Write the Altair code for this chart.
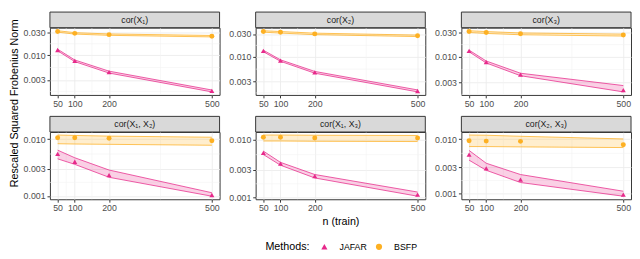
import math
import altair as alt
import pandas as pd

FONT = "Liberation Sans"

# ---------------- data ----------------
n_train = [50, 100, 200, 500]
panel_labels = ["cor(X₁)", "cor(X₂)", "cor(X₃)",
                "cor(X₁, X₂)", "cor(X₁, X₃)", "cor(X₂, X₃)"]
method_names = ["JAFAR", "BSFP"]
method_colors = ["#E7298A", "#FDB022"]
method_shapes = ["triangle-up", "circle"]

jafar_mean = [
    [0.0128, 0.0076, 0.0044, 0.00177],
    [0.0132, 0.0083, 0.0047, 0.0019],
    [0.0129, 0.0077, 0.0043, 0.0021],
    [0.0055, 0.0040, 0.00233, 0.00104],
    [0.0059, 0.00384, 0.00235, 0.00113],
    [0.0052, 0.0029, 0.0018, 0.00095],
]
jafar_lo = [
    [0.0123, 0.0073, 0.0042, 0.00169],
    [0.0127, 0.0080, 0.0045, 0.00182],
    [0.0124, 0.0074, 0.0041, 0.00194],
    [0.0045, 0.0036, 0.00213, 0.00099],
    [0.0055, 0.00361, 0.00218, 0.00106],
    [0.0041, 0.00267, 0.00159, 0.00089],
]
jafar_hi = [
    [0.0133, 0.0079, 0.0046, 0.00185],
    [0.0137, 0.0086, 0.0049, 0.0020],
    [0.0134, 0.0081, 0.0046, 0.0026],
    [0.0064, 0.0047, 0.00286, 0.00114],
    [0.0063, 0.00404, 0.0025, 0.00125],
    [0.0062, 0.0036, 0.00223, 0.0011],
]
bsfp_mean = [
    [0.0314, 0.0286, 0.0269, 0.0249],
    [0.0340, 0.0326, 0.0302, 0.0275],
    [0.0316, 0.0303, 0.0285, 0.0269],
    [0.0106, 0.0106, 0.0104, 0.0094],
    [0.0109, 0.0109, 0.0106, 0.0106],
    [0.0093, 0.0092, 0.0091, 0.0079],
]
bsfp_lo = [
    [0.0303, 0.0276, 0.0260, 0.0241],
    [0.0328, 0.0314, 0.0291, 0.0265],
    [0.0303, 0.0290, 0.0273, 0.0257],
    [0.0083, 0.0082, 0.0081, 0.0078],
    [0.0094, 0.0094, 0.0093, 0.0092],
    [0.0073, 0.0073, 0.0072, 0.0070],
]
bsfp_hi = [
    [0.0325, 0.0296, 0.0278, 0.0258],
    [0.0352, 0.0338, 0.0313, 0.0285],
    [0.0329, 0.0316, 0.0297, 0.0281],
    [0.0118, 0.0116, 0.0113, 0.0108],
    [0.0119, 0.0119, 0.0118, 0.0117],
    [0.0119, 0.0118, 0.0113, 0.0101],
]

x_breaks = [50, 100, 200, 500]
x_minor = [75, 150, 350]
y_break_cands = [0.0003, 0.001, 0.003, 0.01, 0.03, 0.1]

Y_TITLE = "Rescaled Squared Frobenius Norm"
X_TITLE = "n (train)"
LEGEND_TITLE = "Methods:"

rows = []
series = {"JAFAR": (jafar_mean, jafar_lo, jafar_hi),
          "BSFP": (bsfp_mean, bsfp_lo, bsfp_hi)}
for p, lab in enumerate(panel_labels):
    for m in method_names:
        mean, lo, hi = series[m]
        for k, n in enumerate(n_train):
            rows.append(dict(panel=lab, method=m, n=n,
                             mean=mean[p][k], lo=lo[p][k], hi=hi[p][k]))
df = pd.DataFrame(rows)

# ---------------- layout ----------------
W, H, S = 174, 69, 16
x_dom = [x_breaks[0] - 0.05 * (x_breaks[-1] - x_breaks[0]),
         x_breaks[-1] + 0.05 * (x_breaks[-1] - x_breaks[0])]

cscale = alt.Scale(domain=method_names, range=method_colors)
shscale = alt.Scale(domain=method_names, range=method_shapes)

MAJOR = "#EBEBEB"
MINOR = "#F3F3F3"


def make_panel(idx):
    lab = panel_labels[idx]
    d = df[df.panel == lab]
    lmin = math.log10(d["lo"].min())
    lmax = math.log10(d["hi"].max())
    ext = 0.05 * (lmax - lmin)
    y_dom = [10 ** (lmin - ext), 10 ** (lmax + ext)]
    y_major = [b for b in y_break_cands if y_dom[0] <= b <= y_dom[1]]
    mids = [10 ** ((math.log10(a) + math.log10(b)) / 2)
            for a, b in zip(y_break_cands[:-1], y_break_cands[1:])]
    y_minor = [v for v in mids if y_dom[0] <= v <= y_dom[1]]

    xs = alt.Scale(domain=x_dom, nice=False, zero=False)
    ys = alt.Scale(type="log", domain=y_dom, nice=False)

    if idx == 4:
        xaxis = alt.Axis(values=x_breaks, format="d", grid=True,
                         title=X_TITLE, titlePadding=3)
    else:
        xaxis = alt.Axis(values=x_breaks, format="d", grid=True, title=None)
    yaxis = alt.Axis(values=y_major, format=".3f", grid=True, title=None)

    layers = []
    layers.append(alt.Chart(pd.DataFrame({"v": x_minor})).mark_rule(
        color=MINOR, strokeWidth=0.6).encode(x=alt.X("v:Q", scale=xs, axis=xaxis)))
    layers.append(alt.Chart(pd.DataFrame({"v": y_minor})).mark_rule(
        color=MINOR, strokeWidth=0.6).encode(y=alt.Y("v:Q", scale=ys, axis=yaxis)))

    for m, col in zip(method_names, method_colors):
        dm = alt.Chart(d[d.method == m])
        layers.append(dm.mark_area(color=col, fillOpacity=0.22).encode(
            x=alt.X("n:Q", scale=xs, axis=xaxis),
            y=alt.Y("lo:Q", scale=ys, stack=None, axis=yaxis),
            y2="hi:Q"))
        for fld in ["lo", "hi"]:
            layers.append(dm.mark_line(color=col, strokeWidth=0.9, opacity=0.85).encode(
                x=alt.X("n:Q", scale=xs, axis=xaxis),
                y=alt.Y(f"{fld}:Q", scale=ys, axis=yaxis)))

    layers.append(alt.Chart(d).mark_point(filled=True, opacity=1, size=26).encode(
        x=alt.X("n:Q", scale=xs, axis=xaxis),
        y=alt.Y("mean:Q", scale=ys, axis=yaxis),
        color=alt.Color("method:N", scale=cscale, title=LEGEND_TITLE),
        shape=alt.Shape("method:N", scale=shscale, title=LEGEND_TITLE),
    ))

    sd = pd.DataFrame({"label": [lab]})
    layers.append(alt.Chart(sd).mark_rect(fill="#D9D9D9", stroke="#333333",
                                          strokeWidth=1).encode(
        x=alt.value(0), x2=alt.value(W), y=alt.value(-S), y2=alt.value(0)))
    layers.append(alt.Chart(sd).mark_text(font=FONT, fontSize=9, color="#1A1A1A").encode(
        x=alt.value(W / 2), y=alt.value(-S / 2), text="label:N"))

    return alt.layer(*layers).properties(width=W, height=H)


grid = alt.concat(*[make_panel(i) for i in range(6)], columns=3,
                  spacing={"row": 6, "column": 7})

HT = 2 * (S + H) + 15 + 6
ytitle = alt.Chart(pd.DataFrame({"t": [Y_TITLE]})).mark_text(
    angle=270, font=FONT, fontSize=11, color="black").encode(
    x=alt.value(5), y=alt.value(HT / 2 - S - 2), text="t:N").properties(
    width=10, height=HT - S, view=alt.ViewBackground(stroke="transparent"))

chart = alt.hconcat(ytitle, grid, spacing=1).properties(
    padding={"left": 0, "top": 0, "right": 0, "bottom": 0}
).configure_view(
    stroke="#333333", strokeWidth=1
).configure_axis(
    labelFont=FONT, labelFontSize=9, labelColor="#4D4D4D", tickColor="#333333",
    tickSize=3, labelPadding=2, domain=False, titleFont=FONT, titleFontSize=11,
    titleFontWeight="normal", titleColor="black", gridColor=MAJOR, gridWidth=0.9
).configure_legend(
    orient="none", legendX=262, legendY=220, direction="horizontal",
    titleOrient="left", titleFont=FONT, titleFontSize=11, titleFontWeight="normal",
    titleColor="black", labelFont=FONT, labelFontSize=9, labelColor="black",
    symbolSize=40, labelOffset=11, columnPadding=7, titlePadding=10,
    titleBaseline="middle"
)

chart.save("out.html", embed_options={"renderer": "svg", "actions": False})
